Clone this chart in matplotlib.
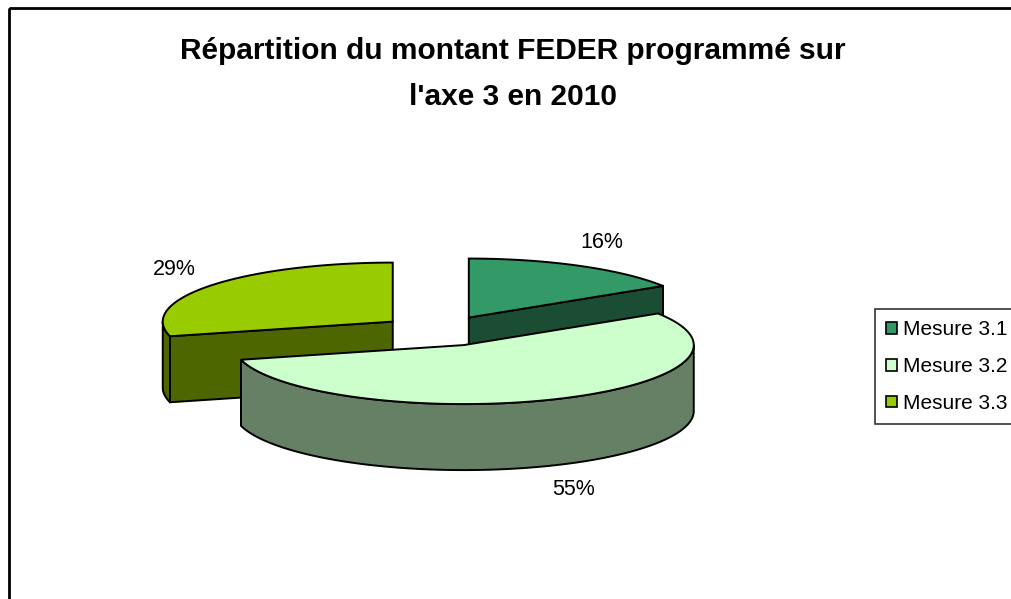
import numpy as np
import matplotlib.pyplot as plt
from matplotlib.patches import Polygon, Rectangle, Patch

plt.rcParams['font.family'] = ['Liberation Sans', 'DejaVu Sans']

categories = ['Mesure 3.1', 'Mesure 3.2', 'Mesure 3.3']
values = [16, 55, 29]
labels = ['16%', '55%', '29%']
top_colors = ['#339966', '#CCFFCC', '#99CC00']
side_colors = ['#1A4D33', '#668066', '#4D6600']

# pie geometry in pixel coords (y down)
cx0, cy0 = 440, 331
rx, ry, depth = 230, 59, 66
explode = 0.26

fig = plt.figure(figsize=(10.12, 5.99), dpi=100)
ax = fig.add_axes([0, 0, 1, 1])
ax.set_xlim(0, 1012)
ax.set_ylim(599, 0)
ax.axis('off')

# outer chart frame (cut by the image edge)
ax.add_patch(Rectangle((9, 8), 1100, 700, fill=False, lw=2, ec='black'))

ax.text(513, 51, "Répartition du montant FEDER programmé sur", ha='center', va='center',
        fontsize=21.5, fontweight='bold')
ax.text(513, 97, "l'axe 3 en 2010", ha='center', va='center',
        fontsize=21.5, fontweight='bold')


def pt(cx, cy, th, dz=0):
    return cx + rx * np.cos(th), cy - ry * np.sin(th) + dz


fr = np.array(values) / sum(values)
starts = np.deg2rad(90 - 360 * np.concatenate([[0], np.cumsum(fr)[:-1]]))
ends = starts - 2 * np.pi * fr

slices = []
for i in range(len(values)):
    a0, a1 = ends[i], starts[i]
    mid = (a0 + a1) / 2
    cx = cx0 + explode * rx * np.cos(mid)
    cy = cy0 - explode * ry * np.sin(mid)
    slices.append((i, a0, a1, mid, cx, cy))

# draw back slices first (higher on screen)
for i, a0, a1, mid, cx, cy in sorted(slices, key=lambda s: s[5]):
    lw = 1.4
    # radial cut faces
    for th, nrm in [(a1, a1 + np.pi / 2), (a0, a0 - np.pi / 2)]:
        if np.sin(nrm) < -1e-6:
            p = pt(cx, cy, th)
            face = [(cx, cy), p, (p[0], p[1] + depth), (cx, cy + depth)]
            ax.add_patch(Polygon(face, closed=True, fc=side_colors[i], ec='black', lw=lw))
    # outer curved side (front part only)
    th = np.linspace(a0, a1, 400)
    vis = th[np.sin(th) < 0]
    if len(vis) > 1:
        xs = cx + rx * np.cos(vis)
        ys = cy - ry * np.sin(vis)
        side = np.column_stack([np.concatenate([xs, xs[::-1]]),
                                np.concatenate([ys, ys[::-1] + depth])])
        ax.add_patch(Polygon(side, closed=True, fc=side_colors[i], ec='black', lw=lw))
    # top face
    top = [(cx, cy)] + [pt(cx, cy, t) for t in th]
    ax.add_patch(Polygon(top, closed=True, fc=top_colors[i], ec='black', lw=lw))
    # label
    lx = cx + rx * 1.2 * np.cos(mid)
    ly = cy - ry * 1.45 * np.sin(mid) + (depth if np.sin(mid) < 0 else 0)
    ax.text(lx, ly, labels[i], ha='center', va='center', fontsize=15.5)

handles = [Patch(fc=top_colors[i], ec='black', lw=1.2, label=categories[i])
           for i in range(len(values))]
fig.legend(handles=handles, loc='upper left', bbox_to_anchor=(875 / 1012, 1 - 309 / 599),
           frameon=True, fancybox=False, edgecolor='black', fontsize=15,
           handlelength=0.5, handleheight=0.5, handletextpad=0.3,
           borderpad=0.55, labelspacing=0.85, borderaxespad=0)
fig.legends[0].get_frame().set_linewidth(1.2)

plt.savefig('out.png', dpi=100)
